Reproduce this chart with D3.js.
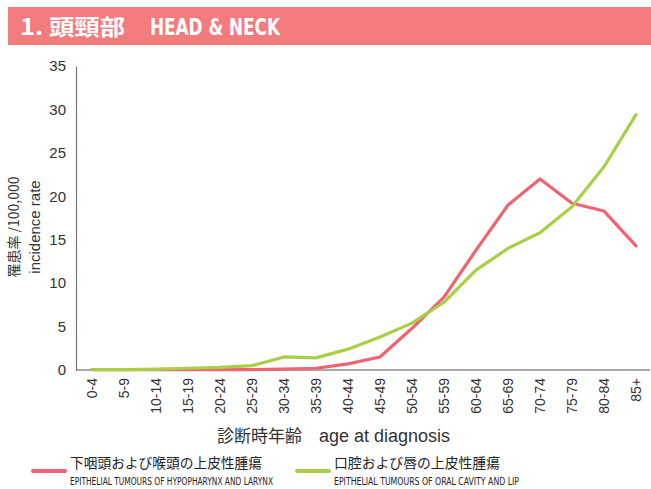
<!DOCTYPE html>
<html><head><meta charset="utf-8">
<script src="https://cdn.jsdelivr.net/npm/d3@7"></script>
<style>body{margin:0;background:#fff}svg{display:block}</style>
</head><body>
<svg id="c" width="651" height="489"></svg>
<script>
const categories = ["0-4","5-9","10-14","15-19","20-24","25-29","30-34","35-39","40-44","45-49","50-54","55-59","60-64","65-69","70-74","75-79","80-84","85+"];
const hypopharynx = [0.05,0.05,0.05,0.05,0.05,0.05,0.1,0.2,0.7,1.5,4.8,8.4,13.8,19.0,22.0,19.2,18.3,14.3];
const oral = [0.05,0.05,0.1,0.2,0.3,0.5,1.5,1.4,2.4,3.8,5.4,7.8,11.5,14.0,15.8,18.8,23.4,29.4];
const yTicks = [0,5,10,15,20,25,30,35];
const series = [
  {name:"下咽頭および喉頭の上皮性腫瘍", en:"EPITHELIAL TUMOURS OF HYPOPHARYNX AND LARYNX", values:hypopharynx, color:"#EF6373"},
  {name:"口腔および唇の上皮性腫瘍", en:"EPITHELIAL TUMOURS OF ORAL CAVITY AND LIP", values:oral, color:"#A9CF47"}
];

const svg = d3.select("#c");
const font = "'Liberation Sans', Arial, sans-serif";
const cjk = "'Noto Sans CJK JP',sans-serif";
const narrow = "'Liberation Sans Narrow','DejaVu Sans Condensed','Roboto',sans-serif";

// title bar
svg.append("rect").attr("x",8).attr("y",7).attr("width",643).attr("height",38).attr("fill","#F27B7E");
svg.append("text").attr("x",20).attr("y",35).attr("fill","#fff").attr("font-family",cjk)
  .attr("font-weight","bold").attr("font-size",22).attr("textLength",105).attr("lengthAdjust","spacingAndGlyphs").text("1. 頭頸部");
svg.append("text").attr("x",150).attr("y",35).attr("fill","#fff").attr("font-family",narrow)
  .attr("font-weight","bold").attr("font-size",23).attr("textLength",130).attr("lengthAdjust","spacingAndGlyphs").text("HEAD & NECK");

const x = d3.scalePoint().domain(categories).range([92,636]);
const y = d3.scaleLinear().domain([0,35]).range([370,66]);

// y axis
const ya = svg.append("g").attr("transform","translate(76,0)")
  .call(d3.axisLeft(y).tickValues(yTicks).tickSize(0).tickPadding(10));
ya.select(".domain").attr("stroke","#777").attr("stroke-width",1.2);
ya.selectAll("text").attr("font-family",font).attr("font-size",15).attr("fill","#333");

// x axis
const xa = svg.append("g").attr("transform","translate(0,370)")
  .call(d3.axisBottom(x).tickSize(0).tickPadding(0));
xa.select(".domain").attr("d","M76,0H650").attr("stroke","#555").attr("stroke-width",1.2);
xa.selectAll("text").attr("font-family",font).attr("font-size",14).attr("fill","#333")
  .attr("transform","rotate(-90)").attr("text-anchor","end").attr("dy","0.35em").attr("x",-8).attr("y",0);

// y label
const yl = svg.append("text").attr("transform","translate(0,227) rotate(-90)").attr("text-anchor","middle")
  .attr("font-family",cjk).attr("font-size",14).attr("fill","#333");
yl.append("tspan").attr("x",0).attr("y",19).text("罹患率 /100,000");
yl.append("tspan").attr("x",0).attr("y",40).attr("font-family",font).attr("font-size",15).text("incidence rate");

// x label
const xl = svg.append("text").attr("x",217).attr("y",442).attr("fill","#333").attr("font-size",17);
xl.append("tspan").attr("font-family",cjk).text("診断時年齢　");
xl.append("tspan").attr("font-family",font).attr("font-size",18).text("age at diagnosis");

// lines
const line = d3.line().x((d,i)=>x(categories[i])).y(d=>y(d));
series.forEach(s=>{
  svg.append("path").datum(s.values).attr("d",line).attr("fill","none").attr("stroke",s.color)
    .attr("stroke-width",3.2).attr("stroke-linejoin","round").attr("stroke-linecap","round");
});

// legend
const lx = [33, 297];
series.forEach((s,i)=>{
  const g = svg.append("g").attr("transform",`translate(${lx[i]},0)`);
  g.append("line").attr("x1",0).attr("x2",32).attr("y1",471).attr("y2",471).attr("stroke",s.color).attr("stroke-width",4).attr("stroke-linecap","round");
  g.append("text").attr("x",37).attr("y",468).attr("font-family",cjk).attr("font-size",14).attr("fill","#222")
    .attr("textLength", i===0?192:166).attr("lengthAdjust","spacingAndGlyphs").text(s.name);
  g.append("text").attr("x",37).attr("y",485).attr("font-family",narrow).attr("font-size",11).attr("fill","#222")
    .attr("textLength", i===0?203:185).attr("lengthAdjust","spacingAndGlyphs").text(s.en);
});
</script>
</body></html>
